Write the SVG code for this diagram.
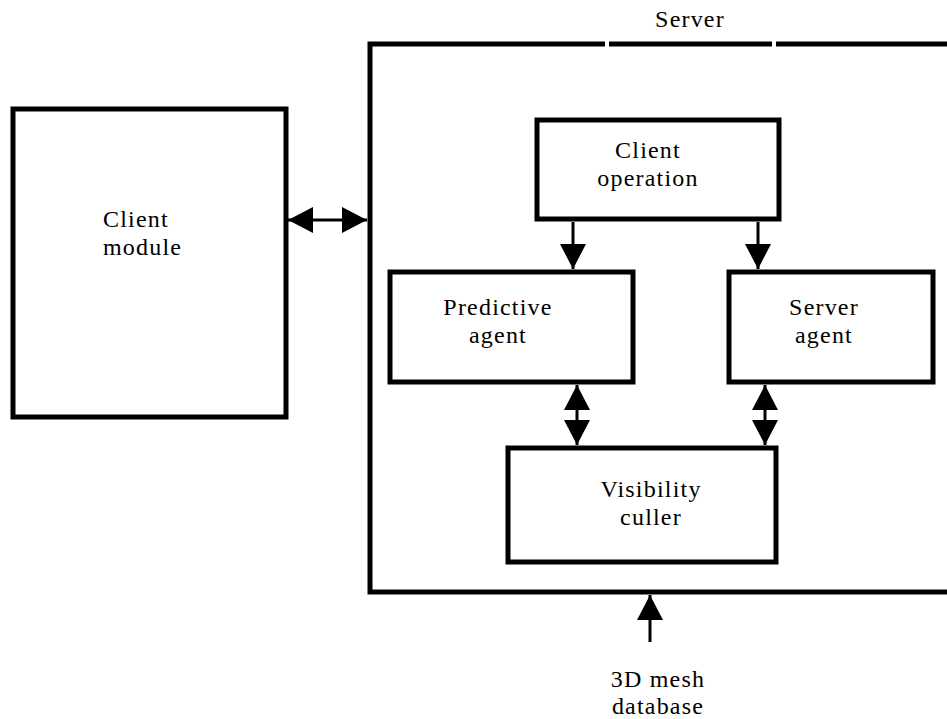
<svg xmlns="http://www.w3.org/2000/svg" width="947" height="719" viewBox="0 0 947 719" font-family="'Liberation Serif', 'DejaVu Serif', serif">
<style>
.box{fill:none;stroke:#000;stroke-width:5}
.conn{stroke:#000;stroke-width:3;fill:none}
.t{font-family:'Liberation Serif','DejaVu Serif',serif;font-size:24px;fill:#000;letter-spacing:1.2px}
.c{text-anchor:middle}
</style>
<defs>
<marker id="ah" viewBox="0 0 25 26" refX="25" refY="13" markerWidth="25" markerHeight="26" markerUnits="userSpaceOnUse" orient="auto-start-reverse">
<path d="M0,0 L25,13 L0,26 z" fill="#000"/>
</marker>
</defs>
<rect width="947" height="719" fill="#fff"/>
<g id="server">
<path class="box" d="M605,44 H370 V592 H960"/>
<line class="box" x1="609" y1="44" x2="772" y2="44"/>
<line class="box" x1="776" y1="44" x2="960" y2="44"/>
<text class="t c" x="690" y="27">Server</text>
</g>
<g id="client-module">
<rect class="box" x="13" y="109" width="273" height="308"/>
<text class="t" x="103" y="227">Client</text>
<text class="t" x="103" y="255">module</text>
</g>
<g id="client-operation">
<rect class="box" x="537" y="120" width="242" height="99"/>
<text class="t c" x="648" y="158">Client</text>
<text class="t c" x="648" y="186">operation</text>
</g>
<g id="predictive-agent">
<rect class="box" x="390" y="272" width="243" height="110"/>
<text class="t c" x="498" y="315">Predictive</text>
<text class="t c" x="498" y="343">agent</text>
</g>
<g id="server-agent">
<rect class="box" x="729" y="272" width="204" height="110"/>
<text class="t c" x="824" y="315">Server</text>
<text class="t c" x="824" y="343">agent</text>
</g>
<g id="visibility-culler">
<rect class="box" x="508" y="448" width="268" height="114"/>
<text class="t c" x="651" y="497">Visibility</text>
<text class="t c" x="651" y="525">culler</text>
</g>
<g id="mesh-database">
<text class="t c" x="658" y="687">3D mesh</text>
<text class="t c" x="658" y="714">database</text>
</g>
<g id="connectors">
<line class="conn" x1="288" y1="220" x2="367" y2="220" marker-start="url(#ah)" marker-end="url(#ah)"/>
<line class="conn" x1="573" y1="222" x2="573" y2="269" marker-end="url(#ah)"/>
<line class="conn" x1="758" y1="222" x2="758" y2="269" marker-end="url(#ah)"/>
<line class="conn" x1="577" y1="385" x2="577" y2="445" marker-start="url(#ah)" marker-end="url(#ah)"/>
<line class="conn" x1="765" y1="385" x2="765" y2="445" marker-start="url(#ah)" marker-end="url(#ah)"/>
<line class="conn" x1="650" y1="642" x2="650" y2="595" marker-end="url(#ah)"/>
</g>
</svg>
